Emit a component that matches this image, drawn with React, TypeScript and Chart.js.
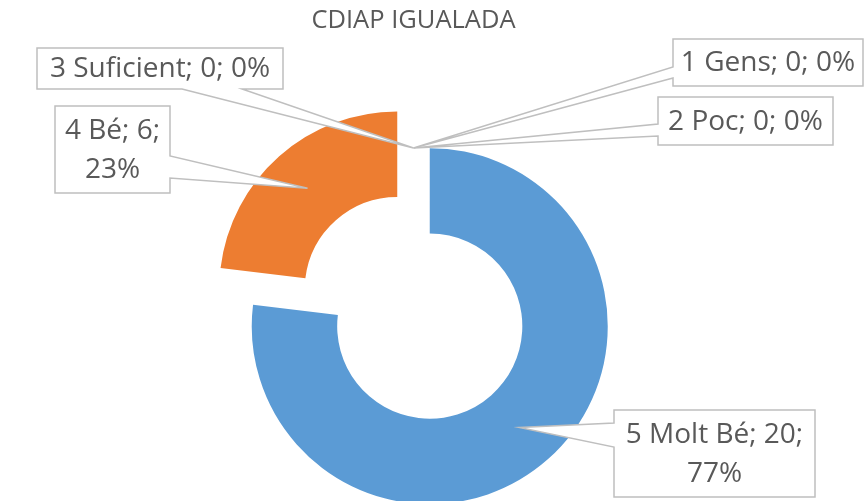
import React, { useEffect, useRef } from 'react';
import { Chart, registerables } from 'chart.js';

Chart.register(...registerables);

// ---- data ----
const TITLE = 'CDIAP IGUALADA';
const categories = ['1 Gens', '2 Poc', '3 Suficient', '4 Bé', '5 Molt Bé'];
const values = [0, 0, 0, 6, 20];
const sliceColors = ['#A5A5A5', '#FFC000', '#4472C4', '#ED7D31', '#5B9BD5'];
// drawing order around the ring (clockwise from 12 o'clock)
const plotOrder = [4, 3, 2, 1, 0];

// ---- layout / style ----
const W = 864;
const H = 501;
const OUTER_R = 178;
const CUTOUT = '52%';
const EXPLODE = 24.5;
const TEXT_COLOR = '#595959';
const BOX_BORDER = '#BFBFBF';
const LABEL_FONT = '28px "Open Sans"';
const LINE_H = 39;

type Box = { x: number; y: number; w: number; h: number; side: 'left' | 'right' | 'bottom'; a: number; b: number; wrap: boolean };
// label box layout per category index
const labelBoxes: Box[] = [
  { x: 673, y: 39, w: 190, h: 47, side: 'left', a: 67, b: 78, wrap: false },
  { x: 658, y: 97, w: 175, h: 48, side: 'left', a: 124, b: 136, wrap: false },
  { x: 37, y: 48, w: 246, h: 41, side: 'bottom', a: 182, b: 242, wrap: false },
  { x: 55, y: 106, w: 115, h: 87, side: 'right', a: 156, b: 178, wrap: true },
  { x: 614, y: 410, w: 201, h: 87, side: 'left', a: 423, b: 447, wrap: true },
];

const total = values.reduce((s, v) => s + v, 0);

function labelLines(i: number): string[] {
  const pct = total ? Math.round((values[i] / total) * 100) : 0;
  if (labelBoxes[i].wrap) return [`${categories[i]}; ${values[i]};`, `${pct}%`];
  return [`${categories[i]}; ${values[i]}; ${pct}%`];
}

const explodePlugin = {
  id: 'explodeAndCallouts',
  beforeDatasetDraw(chart: any, args: any) {
    const ctx = chart.ctx;
    args.meta.data.forEach((arc: any) => {
      const p = arc.getProps(['startAngle', 'endAngle', 'circumference'], true);
      if (!p.circumference) return;
      const mid = (p.startAngle + p.endAngle) / 2;
      ctx.save();
      ctx.translate(Math.cos(mid) * EXPLODE, Math.sin(mid) * EXPLODE);
      arc.draw(ctx, chart.chartArea);
      ctx.restore();
    });
    return false;
  },
  afterDatasetsDraw(chart: any) {
    const ctx = chart.ctx;
    const meta = chart.getDatasetMeta(0);
    plotOrder.forEach((catIdx, pos) => {
      const arc = meta.data[pos];
      if (!arc) return;
      const p = arc.getProps(['x', 'y', 'startAngle', 'endAngle', 'innerRadius', 'outerRadius'], true);
      const mid = (p.startAngle + p.endAngle) / 2;
      const rr = EXPLODE + (p.innerRadius + p.outerRadius) / 2;
      const tx = p.x + Math.cos(mid) * rr;
      const ty = p.y + Math.sin(mid) * rr;
      const bx = labelBoxes[catIdx];
      const { x, y, w, h } = bx;
      ctx.save();
      ctx.beginPath();
      ctx.moveTo(x, y);
      ctx.lineTo(x + w, y);
      if (bx.side === 'right') {
        ctx.lineTo(x + w, bx.a);
        ctx.lineTo(tx, ty);
        ctx.lineTo(x + w, bx.b);
      }
      ctx.lineTo(x + w, y + h);
      if (bx.side === 'bottom') {
        ctx.lineTo(bx.b, y + h);
        ctx.lineTo(tx, ty);
        ctx.lineTo(bx.a, y + h);
      }
      ctx.lineTo(x, y + h);
      if (bx.side === 'left') {
        ctx.lineTo(x, bx.b);
        ctx.lineTo(tx, ty);
        ctx.lineTo(x, bx.a);
      }
      ctx.closePath();
      ctx.fillStyle = '#FFFFFF';
      ctx.fill();
      ctx.lineWidth = 1.5;
      ctx.strokeStyle = BOX_BORDER;
      ctx.lineJoin = 'miter';
      ctx.stroke();

      const lines = labelLines(catIdx);
      ctx.fillStyle = TEXT_COLOR;
      ctx.font = LABEL_FONT;
      ctx.textAlign = 'center';
      ctx.textBaseline = 'middle';
      const cx = x + w / 2;
      const cy = y + h / 2;
      lines.forEach((ln, k) => {
        ctx.fillText(ln, cx, cy + (k - (lines.length - 1) / 2) * LINE_H + 1);
      });
      ctx.restore();
    });
  },
};

export default function App() {
  const ref = useRef<HTMLCanvasElement | null>(null);
  useEffect(() => {
    if (!ref.current) return;
    const chart = new Chart(ref.current, {
      type: 'doughnut',
      data: {
        labels: plotOrder.map((i) => categories[i]),
        datasets: [
          {
            data: plotOrder.map((i) => values[i]),
            backgroundColor: plotOrder.map((i) => sliceColors[i]),
            borderWidth: 0,
          },
        ],
      },
      options: {
        responsive: false,
        animation: false,
        radius: OUTER_R,
        cutout: CUTOUT,
        layout: { padding: { left: 0, right: 37, top: 0, bottom: 0 } },
        plugins: {
          legend: { display: false },
          tooltip: { enabled: false },
          title: {
            display: true,
            text: TITLE,
            color: TEXT_COLOR,
            font: { family: '"Open Sans"', size: 25.5, weight: 'normal' },
            padding: { top: 5, bottom: 79 },
          },
        },
      } as any,
      plugins: [explodePlugin as any],
    });
    (document as any).fonts?.load?.(LABEL_FONT).then(() => chart.update()).catch(() => {});
    return () => chart.destroy();
  }, []);
  return (
    <div style={{ position: 'fixed', left: 0, top: 0, width: W, height: H, background: '#fff' }}>
      <canvas ref={ref} width={W} height={H} style={{ width: W, height: H, display: 'block' }} />
    </div>
  );
}
